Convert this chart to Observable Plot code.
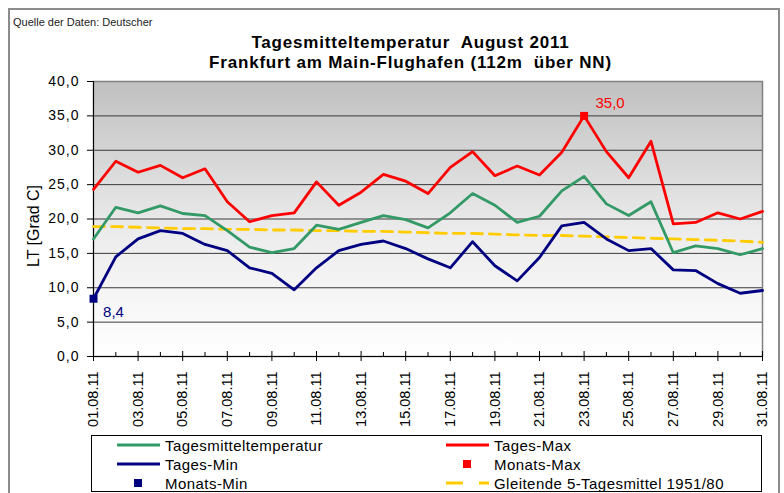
<!DOCTYPE html>
<html><head><meta charset="utf-8">
<script src="https://cdn.jsdelivr.net/npm/d3@7"></script>
<script src="https://cdn.jsdelivr.net/npm/@observablehq/plot@0.6"></script>
<style>
body{margin:0;background:#fff;font-family:"Liberation Sans",Arial,sans-serif;}
#wrap{position:relative;width:784px;height:493px;overflow:hidden;background:#fff;}
#frame{position:absolute;left:8px;top:8px;width:772px;height:500px;border:2px solid #8c8c8c;box-sizing:border-box;}
#chart{position:absolute;left:0;top:0;}
.abs{position:absolute;white-space:nowrap;}
#src{left:13px;top:16px;font-size:11px;color:#222;}
.title{left:0;width:784px;text-align:center;font-weight:bold;font-size:17px;letter-spacing:0.8px;color:#000;padding-left:37px;box-sizing:border-box;}
#ylab{left:34px;top:226px;font-size:16px;transform:translate(-50%,-50%) rotate(-90deg);}
#legend{position:absolute;left:91px;top:435px;width:671px;height:57px;border:1px solid #000;box-sizing:border-box;background:#fff;}
.lt{position:absolute;font-size:15px;letter-spacing:0.45px;line-height:15px;transform:translateY(-50%);color:#000;}
.ll{position:absolute;height:0;transform:translateY(-50%);}
.lsq{position:absolute;width:8px;height:8px;transform:translate(-50%,-50%);}
svg [aria-label="y-axis tick label"] text{letter-spacing:1px;}
</style></head><body>
<div id="wrap">
<div id="frame"></div>
<div id="chart"></div>
<div class="abs" id="src">Quelle der Daten: Deutscher</div>
<div class="abs title" style="top:33px">Tagesmitteltemperatur&nbsp; August 2011</div>
<div class="abs title" style="top:53px">Frankfurt am Main-Flughafen (112m&nbsp; über NN)</div>
<div class="abs" id="ylab">LT [Grad C]</div>
<div id="legend"></div>
</div>
<script>
const days = d3.range(1, 32);
const dateLabels = days.map(d => String(d).padStart(2, "0") + ".08.11");
const tagesmittel = [17.1,21.7,20.9,21.9,20.8,20.5,18.3,15.9,15.1,15.7,19.1,18.5,19.5,20.5,19.9,18.7,20.9,23.7,22.0,19.5,20.4,24.1,26.2,22.2,20.5,22.5,15.1,16.1,15.7,14.8,15.7];
const tagesMax = [24.3,28.4,26.8,27.8,26.0,27.3,22.5,19.6,20.5,20.9,25.4,22.0,23.9,26.5,25.5,23.7,27.5,29.8,26.3,27.7,26.4,29.7,35.0,29.8,26.0,31.3,19.3,19.5,20.9,20.0,21.1];
const tagesMin = [8.4,14.5,17.1,18.3,17.9,16.3,15.4,12.9,12.1,9.7,12.9,15.4,16.3,16.8,15.7,14.2,12.9,16.7,13.2,11.0,14.4,19.0,19.5,17.1,15.4,15.7,12.6,12.5,10.6,9.2,9.6];
const gleitend = [18.9,18.9,18.8,18.7,18.6,18.6,18.5,18.5,18.4,18.4,18.3,18.3,18.2,18.2,18.1,18.0,17.9,17.9,17.8,17.7,17.6,17.6,17.5,17.4,17.3,17.2,17.1,17.0,16.9,16.8,16.6];
const monatsMax = [{day: 23, value: 35.0, label: "35,0"}];
const monatsMin = [{day: 1, value: 8.4, label: "8,4"}];
const yTicks = d3.range(0, 41, 5);
const oddDays = days.filter(d => d % 2 === 1);
const evenDays = days.filter(d => d % 2 === 0);

const rows = days.map((d, i) => ({day: d, mittel: tagesmittel[i], max: tagesMax[i], min: tagesMin[i], gl: gleitend[i]}));
const fmt = v => v.toFixed(1).replace(".", ",");

const defs = () => {
  const ns = "http://www.w3.org/2000/svg";
  const d = document.createElementNS(ns, "defs");
  d.innerHTML = '<linearGradient id="bg" x1="0" y1="0" x2="0" y2="1"><stop offset="0" stop-color="#c0c0c0"/><stop offset="0.55" stop-color="#ececec"/><stop offset="1" stop-color="#ffffff"/></linearGradient>';
  return d;
};

const chart = Plot.plot({
  width: 784, height: 493,
  marginLeft: 93, marginRight: 22, marginTop: 81, marginBottom: 137,
  style: {fontFamily: "Liberation Sans, Arial, sans-serif", color: "#000", background: "transparent"},
  x: {type: "linear", domain: [1, 31]},
  y: {domain: [0, 40]},
  marks: [
    defs,
    Plot.frame({fill: "url(#bg)", stroke: null}),
    Plot.ruleY(yTicks.filter(v => v > 0 && v < 40), {stroke: "#3a3a3a", strokeWidth: 1}),
    Plot.frame({stroke: "#808080", strokeWidth: 1.5}),
    Plot.ruleX([1], {stroke: "#000"}),
    Plot.ruleY([0], {stroke: "#000"}),
    Plot.axisY({ticks: yTicks, tickFormat: fmt, tickSize: 6, tickPadding: 8, fontSize: 14, label: null}),
    Plot.axisX({ticks: evenDays, tickSize: -4, text: null, label: null}),
    Plot.axisX({ticks: oddDays, tickSize: -5, text: null, label: null}),
    Plot.axisX({ticks: oddDays, tickFormat: d => dateLabels[d - 1], tickRotate: -90, tickSize: 5, tickPadding: 10, fontSize: 14.5, label: null}),
    Plot.line(rows, {x: "day", y: "gl", stroke: "#ffcc00", strokeWidth: 2.8, strokeDasharray: "11,7"}),
    Plot.line(rows, {x: "day", y: "mittel", stroke: "#339966", strokeWidth: 2.8}),
    Plot.line(rows, {x: "day", y: "max", stroke: "#ff0000", strokeWidth: 2.8}),
    Plot.line(rows, {x: "day", y: "min", stroke: "#000080", strokeWidth: 2.8}),
    Plot.dot(monatsMax, {x: "day", y: "value", symbol: "square", fill: "#ff0000", r: 4.5}),
    Plot.dot(monatsMin, {x: "day", y: "value", symbol: "square", fill: "#000080", r: 4.5}),
    Plot.text(monatsMax, {x: "day", y: "value", text: "label", fill: "#ff0000", fontSize: 15, dx: 26, dy: -13}),
    Plot.text(monatsMin, {x: "day", y: "value", text: "label", fill: "#000080", fontSize: 15, dx: 20, dy: 13})
  ]
});
document.getElementById("chart").appendChild(chart);

// legend
const legendItems = [
  {label: "Tagesmitteltemperatur", kind: "line", color: "#339966", col: 0, row: 0},
  {label: "Tages-Max", kind: "line", color: "#ff0000", col: 1, row: 0},
  {label: "Tages-Min", kind: "line", color: "#000080", col: 0, row: 1},
  {label: "Monats-Max", kind: "square", color: "#ff0000", col: 1, row: 1},
  {label: "Monats-Min", kind: "square", color: "#000080", col: 0, row: 2},
  {label: "Gleitende 5-Tagesmittel 1951/80", kind: "dash", color: "#ffcc00", col: 1, row: 2}
];
const leg = document.getElementById("legend");
const colX = [25, 354];
const rowY = [9, 28, 47];
for (const it of legendItems) {
  const x0 = colX[it.col], y = rowY[it.row];
  if (it.kind === "line" || it.kind === "dash") {
    const l = document.createElement("div");
    l.className = "ll";
    l.style.left = x0 + "px"; l.style.top = y + "px"; l.style.width = "43px";
    l.style.borderTop = "3px solid " + it.color;
    if (it.kind === "dash") { l.style.borderTop = "none"; l.style.height = "3px";
      l.style.background = `repeating-linear-gradient(90deg, ${it.color} 0 17px, transparent 17px 33px)`; }
    leg.appendChild(l);
  } else {
    const s = document.createElement("div");
    s.className = "lsq";
    s.style.left = (x0 + 21) + "px"; s.style.top = y + "px"; s.style.background = it.color;
    leg.appendChild(s);
  }
  const t = document.createElement("div");
  t.className = "lt";
  t.style.left = (x0 + 48) + "px"; t.style.top = y + "px";
  t.textContent = it.label;
  leg.appendChild(t);
}
</script>
</body></html>
